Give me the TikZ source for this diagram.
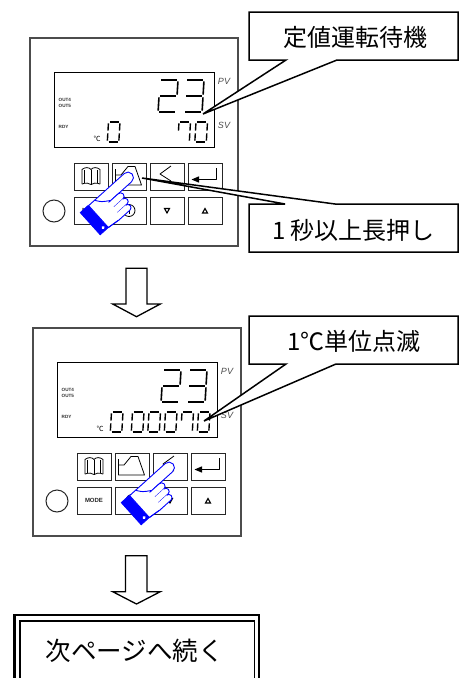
\documentclass[tikz,border=0pt]{standalone}
\usepackage{fontspec}
\setmainfont{Liberation Sans}
\newfontfamily\cjk{Noto Sans CJK JP}
\tikzset{
 panelst/.style={draw=black!70, line width=1.2pt},
 dispst/.style={draw=black, line width=0.9pt},
 btnst/.style={draw=black!85, line width=1pt},
 iconst/.style={draw=black, line width=0.8pt, line join=round},
 trist/.style={draw=black, line width=1.1pt, line join=miter},
 callst/.style={draw=black, line width=1.5pt, fill=white, line join=miter},
 arrst/.style={draw=black, line width=1.3pt, fill=white, line join=miter},
 handst/.style={draw=blue, line width=0.9pt, fill=white, line join=round},
 handline/.style={draw=blue, line width=0.9pt, line join=round},
 cuffst/.style={draw=blue, fill=blue, line width=0.6pt},
 jtext/.style={font=\cjk\fontsize{24}{26}\selectfont, inner sep=0pt},
 tinyl/.style={font=\bfseries\fontsize{4.6}{5}\selectfont, text=black!80, inner sep=0pt, anchor=west},
 pvl/.style={font=\itshape\fontsize{9}{9}\selectfont, text=black!70, inner sep=0pt},
}
% seven segment pieces
\newcommand\sgA{\draw[line width=\dS pt] (\dG,0) -- (\dW-\dG,0);}
\newcommand\sgB{\draw[line width=\dS pt] (\dW,\dG) -- (\dW,\dH/2-\dG);}
\newcommand\sgC{\draw[line width=\dS pt] (\dW,\dH/2+\dG) -- (\dW,\dH-\dG);}
\newcommand\sgD{\draw[line width=\dS pt] (\dG,\dH) -- (\dW-\dG,\dH);}
\newcommand\sgE{\draw[line width=\dS pt] (0,\dH/2+\dG) -- (0,\dH-\dG);}
\newcommand\sgF{\draw[line width=\dS pt] (0,\dG) -- (0,\dH/2-\dG);}
\newcommand\sgG{\draw[line width=\dS pt] (\dG,\dH/2) -- (\dW-\dG,\dH/2);}
\newcommand\sevdig[6]{\begin{scope}[shift={(#1,#2)},xslant=0.06]\def\dW{#3}\def\dH{#4}\def\dS{#5}\def\dG{1.3}#6\end{scope}}
\newcommand\dzero{\sgA\sgB\sgC\sgD\sgE\sgF}
\newcommand\dtwo{\sgA\sgB\sgG\sgE\sgD}
\newcommand\dthree{\sgA\sgB\sgG\sgC\sgD}
\newcommand\dseven{\sgA\sgB\sgC\sgF}
% controller panel
\newcommand\ctrlpanel[3]{%
\begin{scope}[shift={(#2,#3)}]
\draw[panelst] (30,38) rectangle (238,246);
\draw[dispst] (54,72) rectangle (214,147);
\node[tinyl] (#1o4) at (58.5,100) {OUT4};
\node[tinyl] (#1o5) at (58.5,106) {OUT5};
\node[tinyl] (#1rdy) at (58.5,127) {RDY};
\node[pvl] (#1pv) at (224,81.5) {PV};
\node[pvl] (#1sv) at (224,125.5) {SV};
\node[font=\cjk\fontsize{7}{7}\selectfont, inner sep=0pt] (#1deg) at (97,138.5) {℃};
\sevdig{160}{80}{18}{32}{1.6}{\dtwo}
\sevdig{186}{80}{18}{32}{1.6}{\dthree}
\sevdig{108.5}{122}{11.5}{20}{1.4}{\dzero}
\foreach \bx in {74,112,150,188}{
 \draw[btnst] (\bx,163) rectangle ++(34,27);
 \draw[btnst] (\bx,197) rectangle ++(34,27);}
\draw[btnst] (54,211) circle[radius=11];
% book
\draw[iconst] (82,184) -- (82,169.5) .. controls (85,167) and (89,167) .. (91,169.5) .. controls (93,167) and (97,167) .. (100,169.5) -- (100,184);
\draw[iconst] (91,169.5) -- (91,184.5);
\draw[iconst] (82,184) .. controls (86,182.5) and (89,183) .. (91,184.5) .. controls (93,183) and (96,182.5) .. (100,184);
\draw[iconst] (84.2,170) -- (84.2,182.6);
\draw[iconst] (97.8,170) -- (97.8,182.6);
% profile
\draw[iconst] (115.5,169) -- (115.5,185) -- (141.5,185) -- (135,166.5) -- (128,166.5) -- (121,175) -- (115.5,175);
% shift key
\draw[iconst] (171,166) -- (160,174) -- (171,181);
% enter
\draw[iconst] (216.5,168) -- (216.5,179.5) -- (198,179.5);
\fill (191.5,179.5) -- (199,176.3) -- (199,182.7) -- cycle;
% row 2
\node[font=\bfseries\fontsize{6}{6}\selectfont, inner sep=0pt, text=black!85] (#1mode) at (91,210.5) {MODE};
\draw[iconst] (129,210.5) circle[radius=6];
\draw[iconst] (129,207) -- (129,214);
\draw[trist] (164.5,208.5) -- (169.5,208.5) -- (167,213) -- cycle;
\draw[trist] (202.5,213) -- (207.5,213) -- (205,208.5) -- cycle;
\end{scope}}
% pointing hand
\newcommand\drawhand[2]{%
\begin{scope}[shift={(#1,#2)}, x={(0.743pt,0.669pt)}, y={(0.669pt,-0.743pt)}]
\filldraw[cuffst] (0,-14.5) -- (0,15.5) -- (-11,15.5) -- (-11,-14.5) -- cycle;
\fill[white] (-4,12) circle[radius=1.7];
\filldraw[handst] (0,-14) -- (48,-14) arc[start angle=-90,end angle=90,radius=5.5] -- (22,-3) -- (14,17) -- (0,15.5) -- cycle;
\draw[handline] (8,-14) .. controls (12,-8) .. (20,-3);
\fill[white] (17,-3) -- (30,-3) arc[start angle=-90,end angle=90,radius=3.5] -- (17,4) -- cycle;
\draw[handline] (17,-3) -- (30,-3) arc[start angle=-90,end angle=90,radius=3.5] -- (18,4);
\fill[white] (15,4) -- (29.75,4) arc[start angle=-90,end angle=90,radius=3.25] -- (15,10.5) -- cycle;
\draw[handline] (29.75,4) arc[start angle=-90,end angle=90,radius=3.25] -- (17,10.5);
\fill[white] (12,10.5) -- (27.75,10.5) arc[start angle=-90,end angle=90,radius=3.25] -- (12,17) -- cycle;
\draw[handline] (27.75,10.5) arc[start angle=-90,end angle=90,radius=3.25] -- (13,17) -- (0,15.5);
\end{scope}}
\begin{document}
\begin{tikzpicture}[x=1pt,y=-1pt]
\path[use as bounding box] (0,0) rectangle (459,678);
\clip (0,0) rectangle (459,678);
\fill[white] (0,0) rectangle (459,678);
% panel 1
\ctrlpanel{pa}{0}{0}
\sevdig{179}{122}{11.5}{20}{1.4}{\dseven}
\sevdig{196}{122}{11.5}{20}{1.4}{\dzero}
\drawhand{98}{216}
% panel 2
\ctrlpanel{pb}{3}{290}
\begin{scope}[shift={(3,290)}]
\sevdig{129.5}{122}{11.5}{20}{1.4}{\dzero}
\sevdig{146}{122}{11.5}{20}{1.4}{\dzero}
\sevdig{162.5}{122}{11.5}{20}{1.4}{\dzero}
\sevdig{179}{122}{11.5}{20}{1.4}{\dseven}
\sevdig{195.5}{122}{11.5}{20}{1.4}{\dzero}
\end{scope}
\drawhand{139}{506}
% callouts
\coordinate (tip1) at (203,114);
\coordinate (tip2) at (142,178);
\coordinate (tip3) at (204,421);
\draw[callst] (249,12) -- (458,12) -- (458,60) -- (337,60) -- (tip1) -- (286,60) -- (249,60) -- cycle;
\node[jtext] (t1) at (355,37) {定値運転待機};
\draw[callst] (249,252) -- (458,252) -- (458,204) -- (335,204) -- (tip2) -- (285,204) -- (249,204) -- cycle;
\node[jtext] (t2) at (353.5,230) {1 秒以上長押し};
\draw[callst] (249,316) -- (458,316) -- (458,364) -- (336,364) -- (tip3) -- (286,364) -- (249,364) -- cycle;
\node[jtext] (t3) at (354,341) {1℃単位点滅};
% arrows
\draw[arrst] (126,268.3) -- (147,268.3) -- (147,304) -- (160.3,304) -- (136.5,316.7) -- (112.7,304) -- (126,304) -- cycle;
\draw[arrst] (125.5,555.7) -- (147,555.7) -- (147,591.7) -- (160.3,591.7) -- (136.5,604) -- (112.7,591.7) -- (125.5,591.7) -- cycle;
% final box
\draw[line width=2.3pt] (14.5,615) rectangle (259,700);
\draw[line width=1.6pt] (19.8,621) rectangle (254.3,700);
\node[font=\cjk\fontsize{25.5}{27}\selectfont, inner sep=0pt] (t4) at (134.5,651) {次ページへ続く};
\end{tikzpicture}
\end{document}
